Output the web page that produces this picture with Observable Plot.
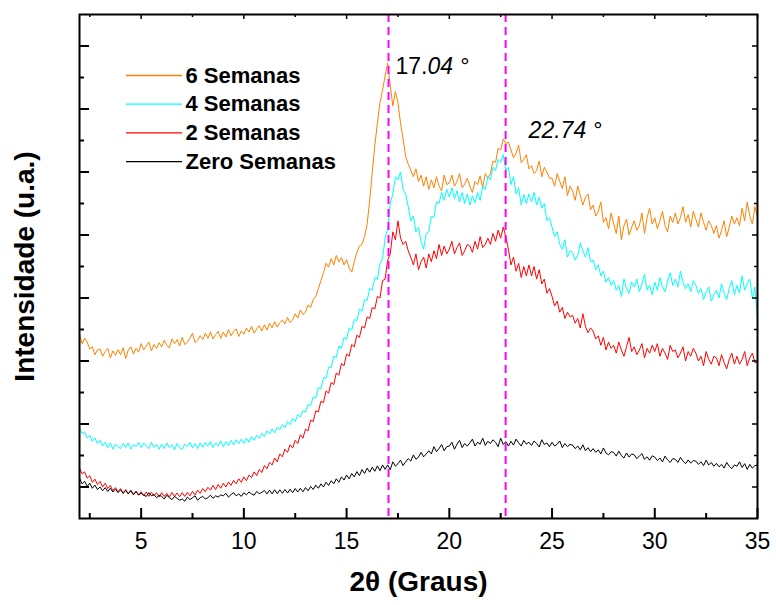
<!DOCTYPE html>
<html>
<head>
<meta charset="utf-8">
<script src="https://cdn.jsdelivr.net/npm/d3@7"></script>
<script src="https://cdn.jsdelivr.net/npm/@observablehq/plot@0.6"></script>
<style>
  html, body { margin: 0; padding: 0; background: #fff; }
  #chart { width: 776px; height: 605px; }
</style>
</head>
<body>
<div id="chart"></div>
<script>
// ---- data ----
// sampling grid: 2θ from 2° to 35°, one row below = one degree (8 samples)
const twoTheta = d3.range(2, 35.001, 0.125);

const seriesNames = ["6 Semanas", "4 Semanas", "2 Semanas", "Zero Semanas"];
const seriesColors = ["#ff8000", "#00ffff", "#ff0000", "#000000"];

const semanas6 = [
  5.85, 5.55, 5.72, 5.60, 5.38, 5.45, 5.20, 5.35,
  5.38, 5.15, 5.30, 5.40, 5.10, 5.32, 5.18, 5.36,
  5.20, 5.42, 5.08, 5.35, 5.45, 5.22, 5.40, 5.28,
  5.55, 5.35, 5.48, 5.60, 5.32, 5.52, 5.40, 5.58,
  5.45, 5.66, 5.50, 5.42, 5.70, 5.55, 5.68, 5.48,
  5.75, 5.52, 5.60, 5.72, 5.88, 5.58, 5.66, 5.80,
  5.68, 5.88, 5.72, 5.92, 5.70, 5.84, 5.95, 5.72,
  5.92, 5.76, 6.00, 5.80, 5.95, 6.02, 5.78, 5.95,
  5.85, 6.05, 5.92, 6.10, 5.88, 6.02, 6.12, 5.95,
  6.15, 5.98, 6.20, 6.05, 6.25, 6.08, 6.22, 6.30,
  6.18, 6.38, 6.22, 6.30, 6.50, 6.36, 6.62, 6.48,
  6.55, 6.78, 6.70, 6.95, 7.05, 7.30, 7.55, 7.80,
  8.10, 7.98, 8.25, 8.05, 8.35, 8.15, 8.28, 8.05,
  8.22, 7.95, 7.82, 8.15, 8.45, 8.65, 8.70, 8.95,
  9.35, 10.10, 11.00, 11.85, 12.55, 13.20, 13.60, 14.05,
  14.45, 13.75, 13.10, 13.55, 13.20, 12.55, 12.05, 11.50,
  11.25, 11.05, 10.85, 11.10, 10.70, 10.90, 10.55, 10.85,
  10.45, 10.75, 10.50, 10.85, 10.55, 10.40, 10.90, 10.60,
  10.65, 10.90, 10.55, 10.70, 10.95, 10.50, 10.62, 10.80,
  10.55, 10.35, 10.70, 10.60, 10.88, 10.50, 10.95, 10.80,
  10.95, 11.35, 11.30, 11.75, 11.70, 12.05, 11.90, 11.95,
  11.70, 11.45, 11.60, 11.85, 11.30, 11.40, 11.55, 11.10,
  11.20, 10.95, 11.05, 11.35, 10.85, 11.15, 11.00, 10.80,
  10.80, 10.55, 10.95, 10.70, 10.48, 10.85, 10.25, 10.55,
  10.40, 10.10, 10.55, 10.25, 9.95, 10.20, 10.30, 9.80,
  9.95, 9.60, 9.75, 10.05, 9.40, 9.55, 9.20, 9.70,
  9.35, 9.05, 9.60, 8.85, 9.30, 9.50, 9.00, 9.25,
  9.45, 9.15, 9.30, 9.70, 9.05, 9.55, 9.85, 9.35,
  9.55, 9.20, 9.45, 9.75, 9.30, 9.10, 9.60, 9.40,
  9.70, 9.35, 9.55, 9.90, 9.40, 9.65, 9.25, 9.75,
  9.50, 9.25, 9.70, 9.40, 9.15, 9.45, 9.30, 9.05,
  9.30, 8.90, 9.15, 9.45, 8.95, 9.25, 9.60, 9.35,
  9.55, 9.30, 9.85, 9.45, 10.05, 9.60, 9.35, 9.90,
  9.55
];
const semanas4 = [
  2.88, 2.70, 2.75, 2.55, 2.64, 2.45, 2.56, 2.38,
  2.48, 2.30, 2.42, 2.25, 2.40, 2.20, 2.36, 2.28,
  2.22, 2.38, 2.26, 2.40, 2.20, 2.35, 2.28, 2.42,
  2.25, 2.40, 2.30, 2.22, 2.42, 2.26, 2.36, 2.20,
  2.36, 2.22, 2.40, 2.25, 2.34, 2.18, 2.38, 2.24,
  2.20, 2.36, 2.28, 2.42, 2.24, 2.38, 2.22, 2.40,
  2.26, 2.42, 2.30, 2.44, 2.25, 2.40, 2.30, 2.46,
  2.28, 2.44, 2.32, 2.48, 2.34, 2.50, 2.38, 2.52,
  2.38, 2.55, 2.42, 2.60, 2.48, 2.64, 2.55, 2.70,
  2.60, 2.78, 2.68, 2.85, 2.72, 2.90, 2.82, 2.98,
  2.88, 3.08, 2.98, 3.18, 3.08, 3.30, 3.22, 3.42,
  3.38, 3.62, 3.58, 3.86, 3.82, 4.15, 4.12, 4.48,
  4.45, 4.80, 4.80, 5.15, 5.12, 5.48, 5.40, 5.75,
  5.68, 6.05, 5.98, 6.32, 6.28, 6.65, 6.58, 6.95,
  6.92, 7.30, 7.25, 7.65, 7.60, 8.10, 8.25, 8.90,
  9.20, 10.00, 10.30, 10.85, 10.75, 11.00, 10.45, 10.30,
  9.90, 9.45, 9.60, 9.10, 9.25, 8.80, 8.55, 9.05,
  9.10, 9.60, 9.55, 10.05, 10.00, 10.35, 10.10, 10.45,
  10.20, 10.50, 10.15, 10.40, 10.05, 10.35, 10.00, 10.30,
  9.95, 10.25, 10.02, 10.35, 10.10, 10.55, 10.45, 10.85,
  10.75, 11.15, 11.05, 11.40, 11.30, 11.55, 11.05, 11.15,
  10.60, 10.85, 10.30, 10.50, 9.95, 10.28, 10.00, 10.30,
  10.05, 10.35, 9.95, 10.20, 9.85, 10.00, 9.45, 9.55,
  9.25, 8.95, 9.10, 8.70, 8.55, 8.85, 8.30, 8.50,
  8.45, 8.20, 8.35, 8.75, 8.50, 8.30, 8.60, 8.15,
  8.20, 7.90, 8.05, 7.70, 7.85, 7.50, 7.65, 7.40,
  7.55, 7.25, 7.40, 7.05, 7.60, 7.30, 7.15, 7.50,
  7.35, 7.60, 7.20, 7.45, 7.75, 7.25, 7.40, 7.10,
  7.50, 7.25, 7.65, 7.35, 7.20, 7.55, 7.80, 7.40,
  7.60, 7.35, 7.85, 7.50, 7.30, 7.45, 7.20, 7.55,
  7.40, 7.15, 7.30, 6.95, 7.20, 7.35, 6.90, 7.10,
  7.25, 7.00, 7.45, 7.15, 6.95, 7.30, 7.55, 7.10,
  7.40, 7.15, 7.70, 7.25, 7.45, 7.60, 7.00, 7.35,
  6.30
];
const semanas2 = [
  1.60, 1.42, 1.48, 1.28, 1.36, 1.15, 1.25, 1.08,
  1.18, 1.00, 1.12, 0.95, 1.05, 0.88, 0.98, 0.85,
  0.95, 0.80, 0.92, 0.78, 0.90, 0.75, 0.86, 0.74,
  0.85, 0.72, 0.84, 0.70, 0.83, 0.72, 0.82, 0.68,
  0.82, 0.70, 0.80, 0.68, 0.83, 0.70, 0.81, 0.69,
  0.82, 0.70, 0.83, 0.72, 0.86, 0.75, 0.90, 0.80,
  0.95, 0.85, 0.99, 0.90, 1.05, 0.92, 1.08, 0.96,
  1.12, 1.00, 1.16, 1.05, 1.21, 1.10, 1.26, 1.15,
  1.32, 1.20, 1.38, 1.30, 1.48, 1.36, 1.56, 1.46,
  1.68, 1.58, 1.78, 1.70, 1.92, 1.80, 2.05, 1.96,
  2.20, 2.10, 2.34, 2.24, 2.48, 2.38, 2.66, 2.55,
  2.84, 2.78, 3.12, 3.08, 3.42, 3.38, 3.72, 3.68,
  4.05, 3.98, 4.32, 4.25, 4.62, 4.55, 4.92, 4.85,
  5.22, 5.15, 5.52, 5.45, 5.82, 5.75, 6.10, 6.05,
  6.40, 6.35, 6.70, 6.65, 7.05, 7.00, 7.55, 7.60,
  8.20, 8.40, 9.10, 8.85, 9.45, 8.90, 8.70, 8.80,
  8.50, 8.30, 8.05, 8.40, 7.90, 8.15, 8.30, 7.95,
  8.40, 8.15, 8.50, 8.25, 8.70, 8.35, 8.65, 8.40,
  8.55, 8.80, 8.40, 8.60, 8.75, 8.35, 8.50, 8.70,
  8.65, 8.45, 8.80, 8.55, 8.95, 8.60, 8.70, 8.90,
  8.70, 9.05, 8.80, 9.15, 8.90, 9.25, 8.95, 8.55,
  8.05, 8.30, 7.85, 8.10, 7.65, 8.00, 7.70, 8.05,
  7.70, 8.00, 7.60, 7.90, 7.45, 7.60, 7.15, 7.30,
  7.05, 6.75, 6.90, 6.55, 6.70, 6.35, 6.55, 6.40,
  6.45, 6.20, 6.35, 6.05, 6.50, 6.10, 5.90, 6.05,
  5.95, 5.70, 5.80, 5.50, 5.75, 5.35, 5.60, 5.40,
  5.50, 5.25, 5.60, 5.35, 5.15, 5.45, 5.75, 5.30,
  5.45, 5.20, 5.35, 5.55, 5.10, 5.40, 5.25, 5.50,
  5.30, 5.55, 5.15, 5.40, 5.25, 5.05, 5.50, 5.30,
  5.35, 5.10, 5.25, 5.45, 5.00, 5.30, 5.15, 5.40,
  5.25, 5.00, 5.15, 4.85, 5.30, 5.05, 4.90, 5.15,
  5.10, 4.85, 5.20, 4.95, 4.75, 5.05, 5.25, 4.90,
  5.15, 4.90, 5.05, 5.30, 4.85, 5.10, 5.25, 4.95,
  4.95
];
const semanas0 = [
  1.28, 1.10, 1.18, 1.02, 1.12, 0.96, 1.06, 0.92,
  1.00, 0.88, 0.98, 0.86, 0.96, 0.84, 0.93, 0.82,
  0.91, 0.80, 0.89, 0.78, 0.88, 0.76, 0.86, 0.75,
  0.80, 0.74, 0.70, 0.82, 0.72, 0.76, 0.66, 0.74,
  0.70, 0.62, 0.74, 0.66, 0.60, 0.70, 0.64, 0.58,
  0.62, 0.55, 0.68, 0.60, 0.66, 0.72, 0.58, 0.66,
  0.70, 0.62, 0.66, 0.74, 0.64, 0.72, 0.68, 0.75,
  0.72, 0.80, 0.68, 0.76, 0.82, 0.72, 0.78, 0.70,
  0.82, 0.75, 0.84, 0.78, 0.74, 0.86, 0.79, 0.83,
  0.89, 0.78, 0.90, 0.78, 0.91, 0.79, 0.91, 0.80,
  0.92, 0.81, 0.93, 0.82, 0.95, 0.84, 0.96, 0.85,
  0.98, 0.88, 1.02, 0.92, 1.06, 0.96, 1.10, 1.00,
  1.15, 1.05, 1.20, 1.10, 1.26, 1.15, 1.32, 1.22,
  1.38, 1.26, 1.43, 1.32, 1.49, 1.36, 1.55, 1.43,
  1.60, 1.47, 1.63, 1.50, 1.67, 1.52, 1.70, 1.56,
  1.70, 1.55, 1.80, 1.66, 1.74, 1.85, 1.68, 1.80,
  1.90, 1.82, 2.02, 1.88, 1.95, 2.10, 1.96, 2.05,
  2.15, 2.05, 2.28, 2.12, 2.22, 2.35, 2.15, 2.28,
  2.30, 2.42, 2.20, 2.36, 2.48, 2.25, 2.38, 2.30,
  2.40, 2.52, 2.30, 2.42, 2.36, 2.55, 2.32, 2.45,
  2.38, 2.50, 2.42, 2.28, 2.55, 2.35, 2.44, 2.30,
  2.45, 2.33, 2.52, 2.40, 2.30, 2.48, 2.36, 2.42,
  2.32, 2.46, 2.38, 2.27, 2.50, 2.35, 2.40, 2.28,
  2.42, 2.30, 2.36, 2.46, 2.25, 2.38, 2.28, 2.35,
  2.33, 2.22, 2.30, 2.18, 2.34, 2.15, 2.25, 2.12,
  2.22, 2.10, 2.18, 2.05, 2.24, 2.08, 2.02, 2.12,
  2.10, 1.98, 2.14, 2.00, 1.92, 2.08, 1.95, 2.05,
  2.02, 1.90, 1.98, 2.06, 1.88, 1.96, 1.85, 1.99,
  1.95, 1.84, 1.92, 1.80, 1.98, 1.86, 1.78, 1.90,
  1.88, 1.78, 1.94, 1.82, 1.74, 1.86, 1.76, 1.84,
  1.82, 1.72, 1.80, 1.68, 1.85, 1.70, 1.78, 1.66,
  1.75, 1.64, 1.72, 1.60, 1.78, 1.66, 1.58, 1.70,
  1.66, 1.80, 1.62, 1.74, 1.56, 1.72, 1.60, 1.68,
  1.70
];

const peakPositions = [17.04, 22.74];
const xTickValues = [5, 10, 15, 20, 25, 30, 35];
const xMinorTicks = [2.5, 7.5, 12.5, 17.5, 22.5, 27.5, 32.5];
const yMajorTicks = [1, 3, 5, 7, 9, 11, 13, 15];
const yMinorTicks = [2, 4, 6, 8, 10, 12, 14];

// ---- build table ----
const seriesValues = [semanas6, semanas4, semanas2, semanas0];
const rows = [];
seriesValues.forEach((vals, s) => {
  vals.forEach((v, i) => rows.push({x: twoTheta[i], y: v, series: seriesNames[s]}));
});

// ---- layout ----
const W = 776, H = 605;
const mL = 79, mR = 19, mT = 14, mB = 87;
const FW = W - mL - mR, FH = H - mT - mB;
const FONT = "'Liberation Sans', Arial, Helvetica, sans-serif";

const swatch = {draw(ctx) { ctx.moveTo(-28, 0); ctx.lineTo(28, 0); }};

const legendMarks = [];
seriesNames.forEach((name, i) => {
  legendMarks.push(Plot.dot([name], {
    frameAnchor: "top-left", dx: 74.5, dy: 61 + i * 28.7,
    symbol: swatch, stroke: seriesColors[i], strokeWidth: 1.3, fill: "none"
  }));
  legendMarks.push(Plot.text([name], {
    frameAnchor: "top-left", dx: 106, dy: 61 + i * 28.7,
    text: d => d, textAnchor: "start", lineAnchor: "middle",
    fontSize: 22, fontWeight: "bold", fill: "#000"
  }));
});

const chart = Plot.plot({
  width: W, height: H,
  marginLeft: mL, marginRight: mR, marginTop: mT, marginBottom: mB,
  style: {fontFamily: FONT, background: "#fff", color: "#000"},
  x: {domain: [2, 35], axis: null},
  y: {domain: [0, 16], axis: null},
  color: {domain: seriesNames, range: seriesColors},
  marks: [
    Plot.line(rows, {x: "x", y: "y", z: "series", stroke: "series", strokeWidth: 1}),
    Plot.ruleX(peakPositions, {x: d => d, stroke: "#ff00ff", strokeWidth: 2, strokeDasharray: "8,5"}),
    // tick marks (inward)
    Plot.tickX(xTickValues, {x: d => d, insetTop: FH - 10, strokeWidth: 2}),
    Plot.tickX(xMinorTicks, {x: d => d, insetTop: FH - 5, strokeWidth: 2}),
    Plot.tickX(xTickValues, {x: d => d, insetBottom: FH - 5, strokeWidth: 1.5}),
    Plot.tickX(xMinorTicks, {x: d => d, insetBottom: FH - 3, strokeWidth: 1.5}),
    Plot.tickY(yMajorTicks, {y: d => d, insetRight: FW - 10, strokeWidth: 2}),
    Plot.tickY(yMinorTicks, {y: d => d, insetRight: FW - 5, strokeWidth: 2}),
    Plot.tickY(yMajorTicks, {y: d => d, insetLeft: FW - 5, strokeWidth: 1.5}),
    Plot.tickY(yMinorTicks, {y: d => d, insetLeft: FW - 3, strokeWidth: 1.5}),
    Plot.frame({stroke: "#000", strokeWidth: 2}),
    // tick labels
    Plot.axisX(xTickValues, {tickSize: 0, tickPadding: 14, fontSize: 23, label: null}),
    // axis titles
    Plot.text(["Intensidade (u.a.)"], {frameAnchor: "left", dx: -54, rotate: -90, text: d => d,
      fontSize: 28, fontWeight: "bold", textAnchor: "middle", lineAnchor: "middle", fill: "#000"}),
    Plot.text(["2θ (Graus)"], {frameAnchor: "bottom", dy: 64, text: d => d,
      fontSize: 28, fontWeight: "bold", textAnchor: "middle", lineAnchor: "middle", fill: "#000"}),
    // peak annotations
    Plot.text([peakPositions[0]], {x: d => d, frameAnchor: "top", dx: 7, dy: 59, text: () => "17.",
      textAnchor: "start", lineAnchor: "bottom", fontSize: 23, fill: "#000"}),
    Plot.text([peakPositions[0]], {x: d => d, frameAnchor: "top", dx: 39, dy: 59, text: () => "04 °",
      textAnchor: "start", lineAnchor: "bottom", fontSize: 23, fontStyle: "italic", fill: "#000"}),
    Plot.text([peakPositions[1]], {x: d => d, frameAnchor: "top", dx: 23, dy: 123, text: d => d3.format(".2f")(d) + " °",
      textAnchor: "start", lineAnchor: "bottom", fontSize: 23, fontStyle: "italic", fill: "#000"}),
    ...legendMarks
  ]
});

document.getElementById("chart").appendChild(chart);
</script>
</body>
</html>
